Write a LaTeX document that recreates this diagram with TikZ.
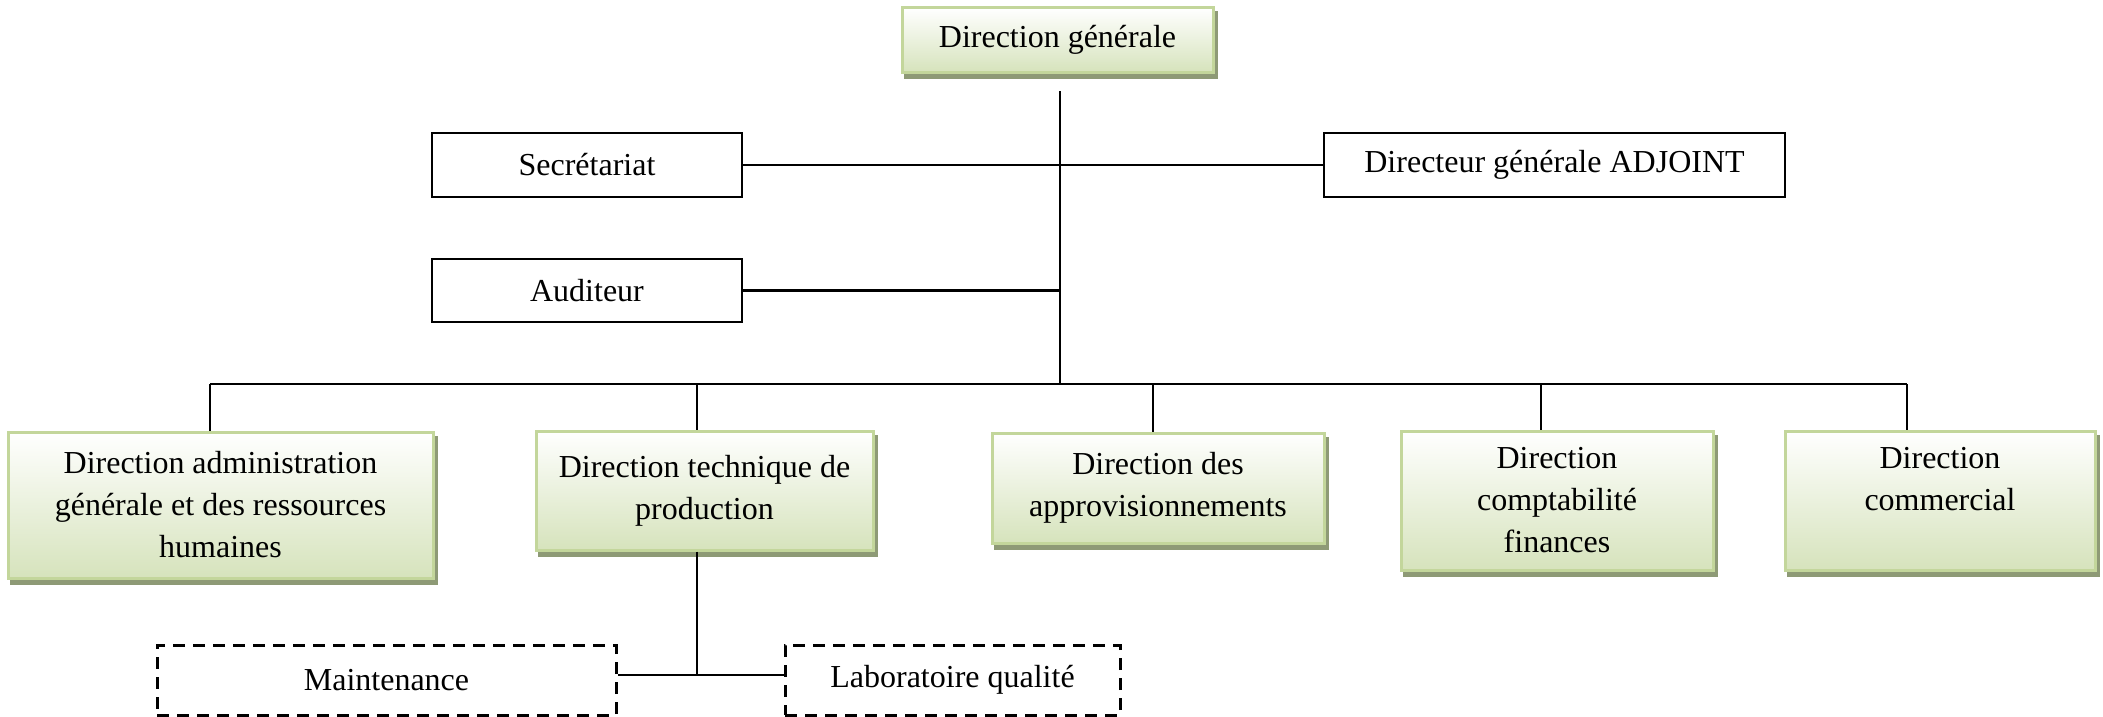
\documentclass[tikz,border=0pt]{standalone}
\usepackage{fontspec}
\setmainfont{Liberation Serif}
\usetikzlibrary{backgrounds}
\definecolor{gborder}{RGB}{195,214,155}
\definecolor{gfill}{RGB}{214,227,188}
\definecolor{gshadow}{RGB}{142,154,118}
\begin{document}
\begin{tikzpicture}[x=1pt,y=1pt,
  every node/.style={font=\fontsize{32}{42}\selectfont, align=center, inner sep=0pt},
  greenbox/.style={draw=gborder, line width=3pt, top color=white, bottom color=gfill},
  plainbox/.style={draw=black, line width=2.5pt, fill=white},
  dashbox/.style={draw=black, line width=3pt, dash pattern=on 12pt off 8pt},
  link/.style={draw=black, line width=2.2pt}]
\useasboundingbox (0,0) rectangle (2103,-717);

% top management
\node[greenbox, minimum width=311pt, minimum height=64pt] (dg) at (1057.5,-40) {Direction générale};
\node[plainbox, minimum width=310pt, minimum height=64pt] (sec) at (587,-165) {Secrétariat};
\node[plainbox, minimum width=461pt, minimum height=64pt] (adj) at (1554.5,-165) {Directeur générale ADJOINT};
\node[plainbox, minimum width=310pt, minimum height=63pt] (aud) at (587,-290.5) {Auditeur};

% directions
\node[greenbox, minimum width=425pt, minimum height=146pt] (b1) at (220.5,-505)
  {Direction administration\\générale et des ressources\\humaines};
\node[greenbox, minimum width=337pt, minimum height=119pt] (b2) at (704.5,-490.5)
  {Direction technique de\\production};
\node[greenbox, minimum width=332pt, minimum height=110pt] (b3) at (1158,-488)
  {Direction des\\approvisionnements};
\node[greenbox, minimum width=312pt, minimum height=139pt] (b4) at (1557,-500.5)
  {Direction\\comptabilité\\finances};
\node[greenbox, minimum width=310pt, minimum height=139pt] (b5) at (1940,-500.5)
  {Direction\\commercial\\\phantom{finances}};

% services under the technical direction
\node[dashbox, minimum width=459pt, minimum height=70pt] (maint) at (386.5,-680) {Maintenance};
\node[dashbox, minimum width=335pt, minimum height=70pt] (lab) at (952.5,-680) {Laboratoire qualité};

% drop shadows of the green boxes
\begin{pgfonlayer}{background}
  \foreach \n in {dg,b1,b2,b3,b4,b5}
    \fill[gshadow] ([xshift=3pt,yshift=-5pt]\n.south west) rectangle ([xshift=3pt,yshift=-5pt]\n.north east);
\end{pgfonlayer}

% junction points
\coordinate (top) at (1060,-91);
\coordinate (bus) at (1060,-384);
\coordinate (d1) at (210,-384);
\coordinate (d2) at (697,-384);
\coordinate (d3) at (1153,-384);
\coordinate (d4) at (1541,-384);
\coordinate (d5) at (1907,-384);
\coordinate (j) at (697,-675);

% connectors
\draw[link] (top) -- (bus);
\draw[link] (sec.east) -- (adj.west);
\draw[link] (aud.east) -- (aud.east -| top);
\draw[link] (d1) -- (d5);
\foreach \i in {1,...,5}
  \draw[link] (d\i) -- (d\i |- b\i.north);
\draw[link] (b2.south -| j) -- (j);
\draw[link] (maint.east |- j) -- (lab.west |- j);
\end{tikzpicture}
\end{document}
